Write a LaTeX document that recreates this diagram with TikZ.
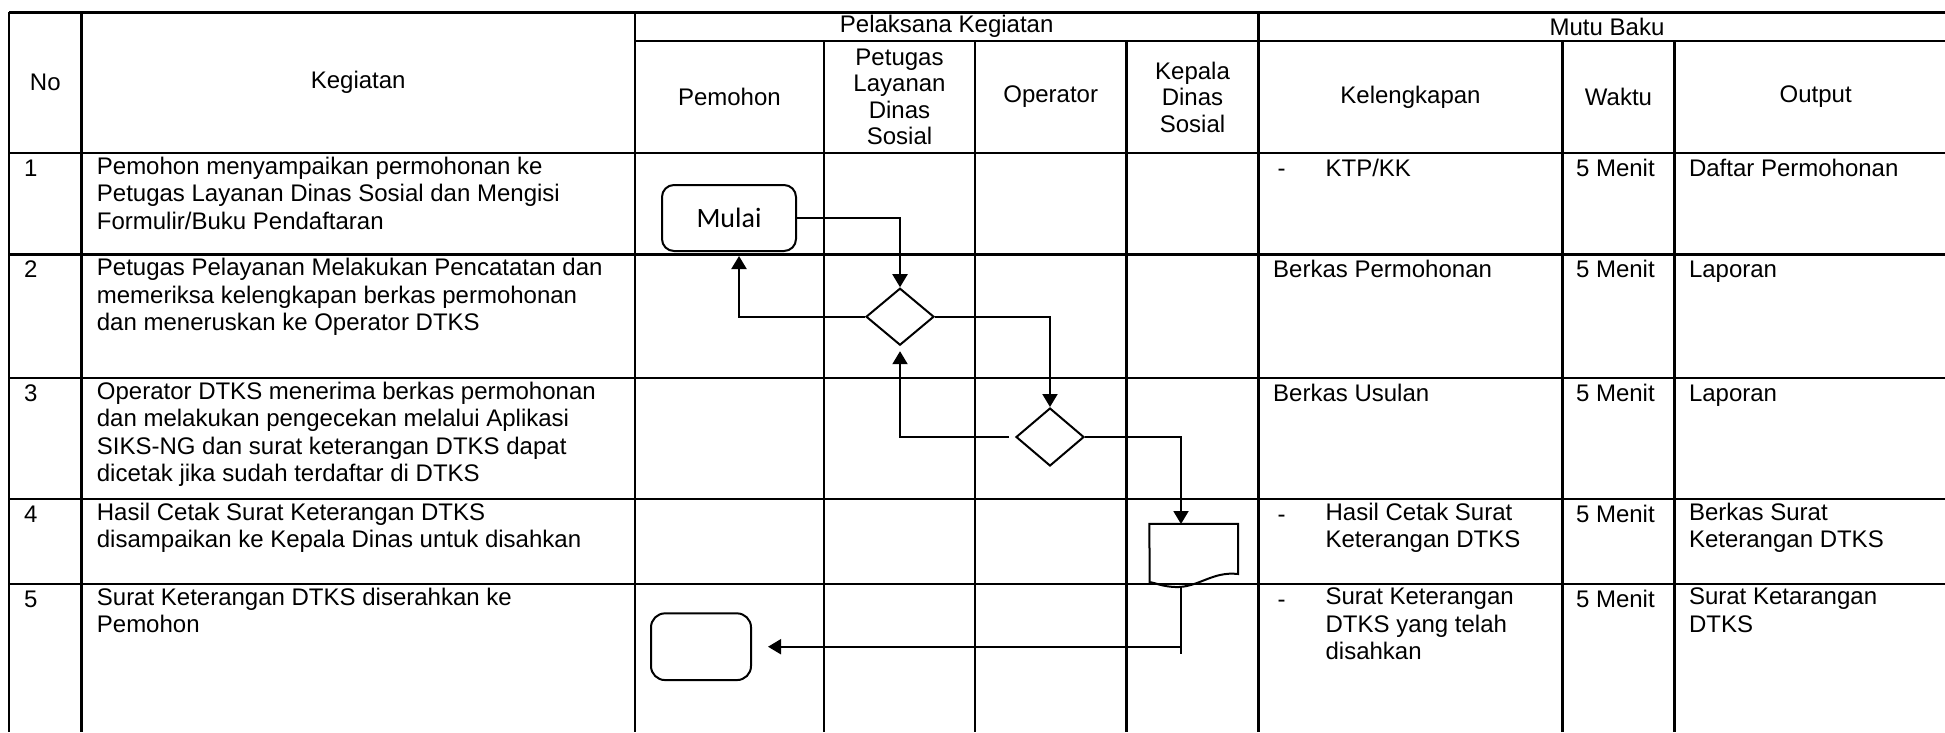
\documentclass[tikz,border=0pt]{standalone}
\usepackage{fontspec}
\setmainfont{Liberation Sans}
\newfontfamily\calib{Carlito}
\usetikzlibrary{arrows.meta,shapes.geometric,calc}
\begin{document}
\begin{tikzpicture}[x=1pt,y=-1pt,
  grid/.style={line width=2.4pt},
  link/.style={line width=2pt},
  flow/.style={link,-{Triangle[length=13pt,width=15pt]}},
  txt/.style={anchor=north west,align=left,inner sep=0pt,font=\fontsize{24}{27.4}\selectfont,execute at begin node=\strut,yshift=19.18pt},
  hdr/.style={anchor=center,align=center,inner sep=0pt,font=\fontsize{24}{26.5}\selectfont},
  term/.style={draw,line width=2pt,rounded corners=12pt,inner sep=0pt},
  dec/.style={draw,diamond,line width=2pt,minimum width=68pt,minimum height=57pt,inner sep=0pt}]
\useasboundingbox (0,0) rectangle (1945,732);
% grid
\draw[grid] (9,12.3) -- (1945,12.3);
\draw[grid] (634.8,40.7) -- (1945,40.7);
\foreach \yy in {153,254.5,378,499,584} \draw[grid] (9,\yy) -- (1945,\yy);
\foreach \xx in {9,81.6,634.8,1258.6} \draw[grid] (\xx,12.3) -- (\xx,732);
\foreach \xx in {824,975,1126.5,1562.5,1674.6} \draw[grid] (\xx,40.7) -- (\xx,732);
% headers
\node[hdr] (hNo) at (45.3,82.5) {No};
\node[hdr] (hKeg) at (358.2,82.5) {Kegiatan};
\node[hdr] (hPel) at (946.7,26.5) {Pelaksana Kegiatan};
\node[hdr] (hMutu) at (1607,26.5) {Mutu Baku};
\node[hdr] (hPem) at (729.4,97) {Pemohon};
\node[hdr] (hPet) at (899.5,97) {Petugas\\Layanan\\Dinas\\Sosial};
\node[hdr] (hOp) at (1050.7,97) {Operator};
\node[hdr] (hKep) at (1192.5,97) {Kepala\\Dinas\\Sosial};
\node[hdr] (hKel) at (1410.5,97) {Kelengkapan};
\node[hdr] (hWak) at (1618.5,97) {Waktu};
\node[hdr] (hOut) at (1815.7,97) {Output};
% row numbers (positions are first baselines; txt shifts them)
\node[txt] (n1) at (24,176) {1};
\node[txt] (n2) at (24,277.5) {2};
\node[txt] (n3) at (24,401) {3};
\node[txt] (n4) at (24,522) {4};
\node[txt] (n5) at (24,607) {5};
% kegiatan
\node[txt] (k1) at (96.7,176) {Pemohon menyampaikan permohonan ke\\Petugas Layanan Dinas Sosial dan Mengisi\\Formulir/Buku Pendaftaran};
\node[txt] (k2) at (96.7,277.5) {Petugas Pelayanan Melakukan Pencatatan dan\\memeriksa kelengkapan berkas permohonan\\dan meneruskan ke Operator DTKS};
\node[txt] (k3) at (96.7,401) {Operator DTKS menerima berkas permohonan\\dan melakukan pengecekan melalui Aplikasi\\SIKS-NG dan surat keterangan DTKS dapat\\dicetak jika sudah terdaftar di DTKS};
\node[txt] (k4) at (96.7,522) {Hasil Cetak Surat Keterangan DTKS\\disampaikan ke Kepala Dinas untuk disahkan};
\node[txt] (k5) at (96.7,607) {Surat Keterangan DTKS diserahkan ke\\Pemohon};
% kelengkapan
\node[txt] (d1m) at (1277.5,176) {-};
\node[txt] (l1) at (1325.4,176) {KTP/KK};
\node[txt] (l2) at (1273,277.5) {Berkas Permohonan};
\node[txt] (l3) at (1273,401) {Berkas Usulan};
\node[txt] (d4m) at (1277.5,522) {-};
\node[txt] (l4) at (1325.4,522) {Hasil Cetak Surat\\Keterangan DTKS};
\node[txt] (d5m) at (1277.5,607) {-};
\node[txt] (l5) at (1325.4,607) {Surat Keterangan\\DTKS yang telah\\disahkan};
% waktu
\node[txt] (w1) at (1575.8,176) {5 Menit};
\node[txt] (w2) at (1575.8,277.5) {5 Menit};
\node[txt] (w3) at (1575.8,401) {5 Menit};
\node[txt] (w4) at (1575.8,522) {5 Menit};
\node[txt] (w5) at (1575.8,607) {5 Menit};
% output
\node[txt] (o1) at (1688.8,176) {Daftar Permohonan};
\node[txt] (o2) at (1688.8,277.5) {Laporan};
\node[txt] (o3) at (1688.8,401) {Laporan};
\node[txt] (o4) at (1688.8,522) {Berkas Surat\\Keterangan DTKS};
\node[txt] (o5) at (1688.8,607) {Surat Ketarangan\\DTKS};
% flowchart
\node[term,minimum width=134pt,minimum height=66pt,font=\calib\fontsize{28}{30}\selectfont] (mulai) at (729,218) {Mulai};
\node[dec] (d1) at (900,316.7) {};
\node[dec,minimum height=58pt] (d2) at (1050,437) {};
\node[inner sep=0pt,minimum width=88.4pt,minimum height=61pt] (doc) at (1193.8,554.5) {};
\draw[line width=2pt] (doc.north west) -- (doc.north east) -- (1238,574)
  .. controls (1212,571) and (1198,588) .. (1175,587)
  .. controls (1162,586.5) and (1156,583) .. (1149.6,582) -- cycle;
\node[term,rounded corners=14pt,minimum width=100pt,minimum height=66.7pt] (endbox) at (701,646.7) {};
\coordinate (dtop) at (1181,524);
\coordinate (dbot) at (1181,586.7);
\coordinate (dstub) at (1181,653.5);
\draw[flow] (mulai.east) -| (d1.north);
\draw[flow,shorten >=4pt] (d1.west) -| ([xshift=10pt]mulai.south);
\draw[flow] (d1.east) -| (d2.north);
\draw[flow,shorten <=6pt,shorten >=5pt] (d2.west) -| (d1.south);
\draw[flow] (d2.east) -| (dtop);
\draw[link] (dbot) -- (dstub);
\draw[flow,shorten >=16pt] (dbot) |- (endbox.east);
\end{tikzpicture}
\end{document}
